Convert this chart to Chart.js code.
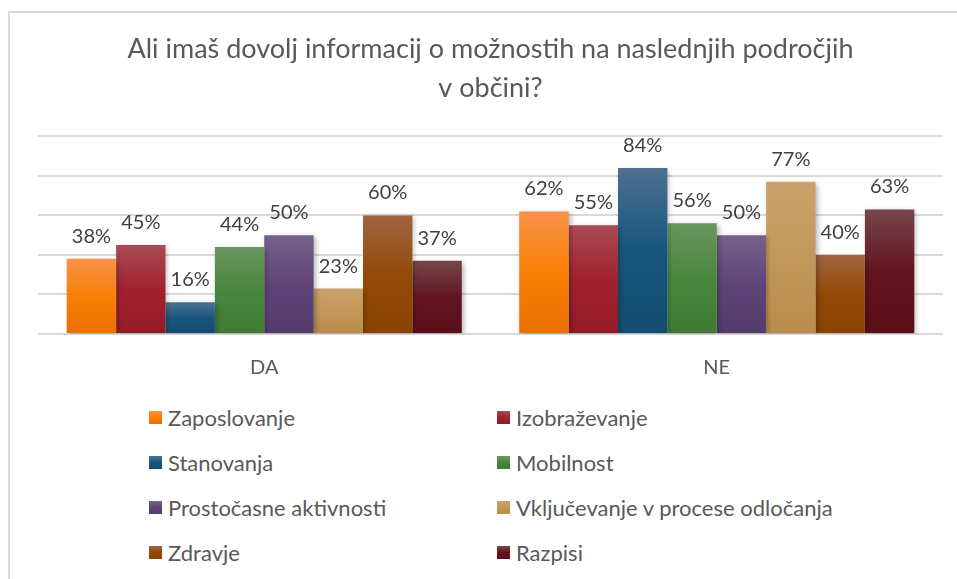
<!DOCTYPE html>
<html>
<head>
<meta charset="utf-8">
<script src="https://cdn.jsdelivr.net/npm/chart.js@4"></script>
<style>
  body { margin: 0; background: #fff; font-family: Lato, "Liberation Sans", sans-serif; }
  #wrap { position: relative; width: 957px; height: 579px; overflow: hidden; }
  #frame { position: absolute; left: 8px; top: 11px; width: 1000px; height: 700px;
           border-left: 2px solid #d9d9d9; border-top: 2px solid #d9d9d9; }
  #chartBox { position: absolute; left: 0; top: 0; width: 957px; height: 395px; }
  #legend { position: absolute; left: 149px; top: 395px; display: grid;
            grid-template-columns: 348px 420px; grid-auto-rows: 45px; }
  .item { display: flex; align-items: center; font-size: 22px; color: #595959; white-space: nowrap; }
  .sw { width: 13px; height: 13px; margin-right: 6px; }
</style>
</head>
<body>
<div id="wrap">
  <div id="frame"></div>
  <div id="chartBox"><canvas id="myChart"></canvas></div>
  <div id="legend"></div>
</div>
<script>
// datos del grafico
const naslov = ["Ali imaš dovolj informacij o možnostih na naslednjih področjih", "v občini?"];
const kategorije = ["DA", "NE"];
const serije = ["Zaposlovanje", "Izobraževanje", "Stanovanja", "Mobilnost",
  "Prostočasne aktivnosti", "Vključevanje v procese odločanja", "Zdravje", "Razpisi"];
const zaposlovanje = [38, 62];
const izobrazevanje = [45, 55];
const stanovanja = [16, 84];
const mobilnost = [44, 56];
const prostocasne = [50, 50];
const vkljucevanje = [23, 77];
const zdravje = [60, 40];
const razpisi = [37, 63];
const vrednosti = [zaposlovanje, izobrazevanje, stanovanja, mobilnost, prostocasne, vkljucevanje, zdravje, razpisi];

// barve: svetla zgoraj, osnovna, temnejsa spodaj
const barve = [
  ["#F8914A", "#F88004", "#E97000"],
  ["#AA4C56", "#A0212F", "#951A28"],
  ["#4D7091", "#17557D", "#134D70"],
  ["#6A965F", "#4A873D", "#407A34"],
  ["#76628A", "#5F4478", "#553B6C"],
  ["#C9A26B", "#C4985A", "#B98C4B"],
  ["#A06443", "#934A06", "#8A4300"],
  ["#75464A", "#62141F", "#5A0E18"]
];

const pisava = "Lato, 'Liberation Sans', sans-serif";

function gradiente(i) {
  return (ctx) => {
    const chart = ctx.chart;
    const y = chart.scales.y;
    if (!y || ctx.parsed === undefined) return barve[i][1];
    const top = y.getPixelForValue(ctx.parsed.y);
    const bottom = y.getPixelForValue(0);
    if (!isFinite(top) || !isFinite(bottom) || bottom - top < 1) return barve[i][1];
    const g = chart.ctx.createLinearGradient(0, top, 0, bottom);
    g.addColorStop(0, barve[i][0]);
    g.addColorStop(0.5, barve[i][1]);
    g.addColorStop(1, barve[i][2]);
    return g;
  };
}

const datasets = serije.map((s, i) => ({
  label: s,
  data: vrednosti[i],
  backgroundColor: gradiente(i),
  borderWidth: 0
}));

// sombra de las barras + etiquetas
const etiquetas = {
  id: "etiquetas",
  beforeDatasetsDraw(chart) {
    const c = chart.ctx;
    c.save();
    c.shadowColor = "rgba(0,0,0,0.28)";
    c.shadowBlur = 5;
    c.shadowOffsetX = 2;
    c.shadowOffsetY = 2;
  },
  afterDatasetsDraw(chart) {
    const c = chart.ctx;
    c.restore();
    c.save();
    c.font = "20px " + pisava;
    c.fillStyle = "#404040";
    c.textAlign = "center";
    c.textBaseline = "alphabetic";
    chart.data.datasets.forEach((ds, i) => {
      chart.getDatasetMeta(i).data.forEach((bar, j) => {
        c.fillText(ds.data[j] + "%", bar.x, bar.y - 16);
      });
    });
    c.restore();
  }
};

const myChart = new Chart(document.getElementById("myChart"), {
  type: "bar",
  data: { labels: kategorije, datasets },
  plugins: [etiquetas],
  options: {
    responsive: true,
    maintainAspectRatio: false,
    animation: false,
    layout: { padding: { left: 38, right: 14, top: 30, bottom: 1 } },
    categoryPercentage: 0.873,
    barPercentage: 1.0,
    plugins: {
      legend: { display: false },
      tooltip: { enabled: false },
      title: {
        display: true,
        text: naslov,
        color: "#595959",
        font: { family: pisava, size: 27, weight: "normal", lineHeight: 1.45 },
        padding: { top: 0, bottom: 28 }
      }
    },
    scales: {
      x: {
        grid: { display: false },
        border: { display: false },
        ticks: { color: "#595959", font: { family: pisava, size: 20 }, padding: 14 }
      },
      y: {
        min: 0, max: 100,
        ticks: { display: false, stepSize: 20 },
        border: { display: false },
        grid: { color: "#d9d9d9", lineWidth: 2, drawTicks: false }
      }
    }
  }
});

// leyenda en dos columnas
const legend = document.getElementById("legend");
serije.forEach((s, i) => {
  const it = document.createElement("div");
  it.className = "item";
  it.innerHTML = '<span class="sw" style="background:linear-gradient(' + barve[i][0] + ',' + barve[i][1] + ' 50%,' + barve[i][2] + ')"></span>' + s;
  legend.appendChild(it);
});
</script>
</body>
</html>
